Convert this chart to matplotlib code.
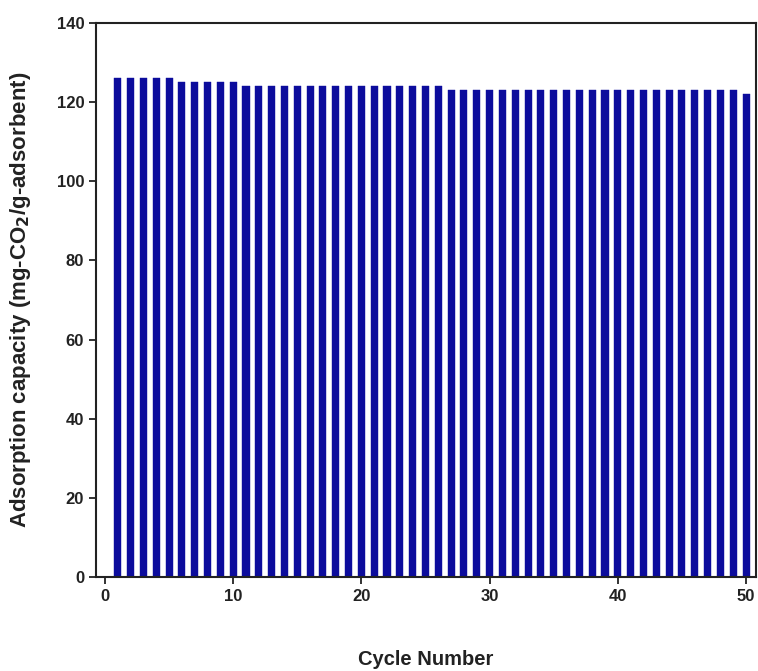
import numpy as np
import matplotlib
matplotlib.use('Agg')
import matplotlib.pyplot as plt

plt.rcParams['font.family'] = ['Liberation Sans', 'DejaVu Sans']
plt.rcParams['font.weight'] = 'bold'

# adsorption capacity per cycle
cycles = np.arange(1, 51)
capacity = [126] * 5 + [125] * 5 + [124] * 16 + [123] * 23 + [122]

fig = plt.figure(figsize=(7.58, 6.71), dpi=100)
ax = fig.add_axes([0.1266, 0.1401, 0.8708, 0.8256])

ax.bar(cycles, capacity, width=0.55, color='#0c0c9c', edgecolor='#0c0c9c', linewidth=0.3)

ax.set_xlim(-0.7, 50.78)
ax.set_ylim(0, 140)
ax.set_xticks([0, 10, 20, 30, 40, 50])
ax.set_yticks(np.arange(0, 141, 20))

for s in ax.spines.values():
    s.set_linewidth(1.5)
    s.set_color('#222222')
ax.tick_params(axis='both', direction='out', length=5, width=1.3, labelsize=12, colors='#222222')

ax.set_xlabel('Cycle Number', fontsize=14.5, fontweight='bold', labelpad=33, color='#222222')
ax.set_ylabel('Adsorption capacity (mg-CO$_\\mathbf{2}$/g-adsorbent)', fontsize=16,
              fontweight='bold', labelpad=17, color='#222222')

fig.savefig('out.png', dpi=100)
